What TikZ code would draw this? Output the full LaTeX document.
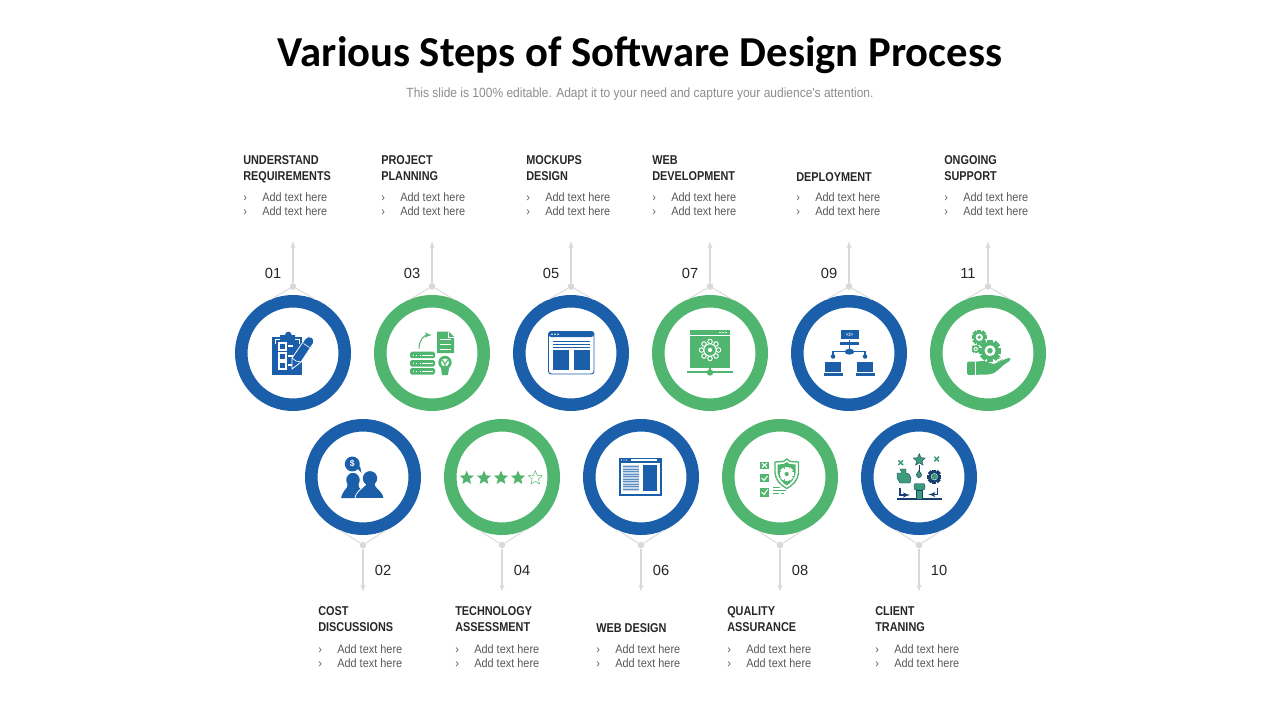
\documentclass[tikz,border=0pt]{standalone}
\usepackage{fontspec}
\setmainfont{Liberation Sans}
\newfontfamily\titlefont{Carlito}
\newfontfamily\headfont[FakeStretch=0.85]{Liberation Sans}
\newfontfamily\bodyfont[FakeStretch=0.9]{Liberation Sans}
\usetikzlibrary{arrows}
\usetikzlibrary{positioning}
\usetikzlibrary{shapes.geometric}
\definecolor{stepblue}{HTML}{1B5EA9}
\definecolor{stepgreen}{HTML}{50B56F}
\definecolor{stepteal}{HTML}{3C9C78}
\definecolor{stepgrey}{HTML}{D9D9D9}
\definecolor{stepnavy}{HTML}{17406E}
\definecolor{steppale}{HTML}{C6D7EC}
\definecolor{steptext}{HTML}{262626}
\tikzset{
  ringblue/.style={draw=stepblue,circle,fill=white,line width=9.4pt,minimum size=77.6pt,inner sep=0pt},
  ringgreen/.style={draw=stepgreen,circle,fill=white,line width=9.4pt,minimum size=77.6pt,inner sep=0pt},
  jdot/.style={fill=stepgrey,circle,minimum size=5pt,inner sep=0pt},
  stepnum/.style={font=\fontsize{11}{13}\selectfont,text=steptext,inner sep=0pt},
  stephead/.style={font=\headfont\bfseries\fontsize{9.6}{12}\selectfont,text=steptext,align=left,anchor=west,inner sep=0pt},
  stepitems/.style={font=\bodyfont\fontsize{9.1}{10.5}\selectfont,text=black!65,align=left,anchor=west,inner sep=0pt}
}
% one gear: centre, radius, colour
\newcommand{\gearicon}[4]{
  \foreach \a in {0,45,...,315}
    \fill[#4,rotate around={\a:(#1,#2)}] (#1-#3*0.28,#2-#3) rectangle (#1+#3*0.28,#2+#3);
  \fill[#4] (#1,#2) circle ({#3*0.78*0.75pt});
  \fill[white] (#1,#2) circle ({#3*0.5*0.75pt});
  \fill[#4] (#1,#2) circle ({#3*0.25*0.75pt});
}
\newcommand{\additems}{\makebox[14.25pt][l]{›}Add text here\\\makebox[14.25pt][l]{›}Add text here}

\begin{document}
\begin{tikzpicture}[x=0.75pt,y=-0.75pt]
  \tikzstyle{arrowline}=[draw=stepgrey, line width=0.85pt, -latex']
  \tikzstyle{wingline}=[draw=stepgrey, line width=0.7pt]
  \useasboundingbox (0,0) rectangle (1280,720);

  \node [font=\titlefont\bfseries\fontsize{32}{38}\selectfont] (title) at (640,55.5) {Various Steps of Software Design Process};
  \node [font=\bodyfont\fontsize{10}{12}\selectfont,text=black!45] (subtitle) at (640,94) {This slide is 100\% editable. Adapt it to your need and capture your audience's attention.};

  % upper row
  \node [ringblue] (ring01) at (293,353) {};
  \node [ringgreen] (ring03) at (432,353) {};
  \node [ringblue] (ring05) at (571,353) {};
  \node [ringgreen] (ring07) at (710,353) {};
  \node [ringblue] (ring09) at (849,353) {};
  \node [ringgreen] (ring11) at (988,353) {};
  % lower row
  \node [ringblue] (ring02) at (363,477) {};
  \node [ringgreen] (ring04) at (502,477) {};
  \node [ringblue] (ring06) at (641,477) {};
  \node [ringgreen] (ring08) at (780,477) {};
  \node [ringblue] (ring10) at (919,477) {};

  \foreach \n/\x in {01/293,03/432,05/571,07/710,09/849,11/988} {
    \node [jdot] (dot\n) at (\x,286.5) {};
    \coordinate (tip\n) at (\x,241);
    \path [arrowline] (dot\n) -- (tip\n);
    \path [wingline] (dot\n) -- (ring\n.113);
    \path [wingline] (dot\n) -- (ring\n.67);
  }
  \foreach \n/\x in {02/363,04/502,06/641,08/780,10/919} {
    \node [jdot] (dot\n) at (\x,545) {};
    \coordinate (tip\n) at (\x,592);
    \path [arrowline] (dot\n) -- (tip\n);
    \path [wingline] (dot\n) -- (ring\n.247);
    \path [wingline] (dot\n) -- (ring\n.293);
  }

  \node [stepnum] (num01) at (273,273) {01};
  \node [stepnum] (num03) at (412,273) {03};
  \node [stepnum] (num05) at (551,273) {05};
  \node [stepnum] (num07) at (690,273) {07};
  \node [stepnum] (num09) at (829,273) {09};
  \node [stepnum] (num11) at (968,273) {11};
  \node [stepnum] (num02) at (383,570) {02};
  \node [stepnum] (num04) at (522,570) {04};
  \node [stepnum] (num06) at (661,570) {06};
  \node [stepnum] (num08) at (800,570) {08};
  \node [stepnum] (num10) at (939,570) {10};

  \node [stephead] (head01) at (243,169) {UNDERSTAND\\REQUIREMENTS};
  \node [stephead] (head03) at (381,168) {PROJECT\\PLANNING};
  \node [stephead] (head05) at (526,168) {MOCKUPS\\DESIGN};
  \node [stephead] (head07) at (652,168) {WEB\\DEVELOPMENT};
  \node [stephead] (head09) at (796,177) {DEPLOYMENT};
  \node [stephead] (head11) at (944,168) {ONGOING\\SUPPORT};
  \node [stephead] (head02) at (318,619) {COST\\DISCUSSIONS};
  \node [stephead] (head04) at (455,619) {TECHNOLOGY\\ASSESSMENT};
  \node [stephead] (head06) at (596,628) {WEB DESIGN};
  \node [stephead] (head08) at (727,619) {QUALITY\\ASSURANCE};
  \node [stephead] (head10) at (875,619) {CLIENT\\TRANING};

  \node [stepitems] (items01) at (243,204) {\additems};
  \node [stepitems] (items03) at (381,204) {\additems};
  \node [stepitems] (items05) at (526,204) {\additems};
  \node [stepitems] (items07) at (652,204) {\additems};
  \node [stepitems] (items09) at (796,204) {\additems};
  \node [stepitems] (items11) at (944,204) {\additems};
  \node [stepitems] (items02) at (318,656) {\additems};
  \node [stepitems] (items04) at (455,656) {\additems};
  \node [stepitems] (items06) at (596,656) {\additems};
  \node [stepitems] (items08) at (727,656) {\additems};
  \node [stepitems] (items10) at (875,656) {\additems};

  % clipboard
  \begin{scope}[shift={(ring01.center)}]
    \fill [stepblue] (-21,-16) rectangle (9,22);
    \fill [stepblue] (-13,-16) -- (-13,-18) -- (-8,-18) arc (180:0:2.5pt) -- (2,-18) -- (2,-16) -- cycle;
    \draw [white, line width=0.4pt] (-18,-9) -- (-18,-13.5) -- (-13,-13.5) (2,-13.5) -- (6,-13.5) -- (6,-9);
    \foreach \y in {-10,0,9} {
      \draw [white, line width=0.8pt] (-14,\y) rectangle (-7,\y+7);
      \draw [white, line width=0.8pt] (-5,\y+3) -- (0,\y+3);
    }
    \draw [white, line width=0.6pt, fill=stepblue] (-1,16) -- (-1,5) -- (12,-14) .. controls (15,-19) and (23,-15) .. (20.5,-10) -- (8,9) -- cycle;
    \draw [white, line width=0.5pt] (10.5,-9.5) -- (16.5,-5.5);
    \draw [white, line width=0.5pt] (-1,5) -- (3,8) -- (8,9);
  \end{scope}

  % servers and document
  \begin{scope}[shift={(ring03.center)}]
    \foreach \y in {-1.3,7,15} {
      \fill [stepgreen, rounded corners=1.2pt] (-22,\y) rectangle (3,\y+6.5);
      \draw [white, line width=0.5pt, dotted] (-19,\y+3.2) -- (-11,\y+3.2);
      \draw [white, line width=0.5pt] (-10,\y+3.2) -- (1,\y+3.2);
    }
    \draw [stepgreen, line width=0.8pt, -latex'] (-13,-4.5) .. controls (-13,-13) and (-8,-18) .. (0,-18);
    \fill [stepgreen] (5,-21.5) -- (17,-21.5) -- (22,-16) -- (22,0) -- (5,0) -- cycle;
    \draw [white, line width=0.6pt] (16.5,-21) -- (16.5,-15.5) -- (22,-15.5);
    \foreach \y in {-14,-9,-4} \draw [white, line width=0.6pt] (8,\y) -- (19,\y);
    \fill [stepgreen] (13,9.5) circle (5pt);
    \fill [white] (13,9.5) circle (3pt);
    \draw [stepgreen, line width=0.8pt] (10,7) -- (13,11) -- (16,7) (13,11) -- (13,16);
    \fill [stepgreen] (9,15) -- (17,15) -- (16,22) -- (10,22) -- cycle;
  \end{scope}

  % browser window
  \begin{scope}[shift={(ring05.center)}]
    \draw [stepblue, line width=0.7pt, rounded corners=2pt] (-22.5,-21.5) rectangle (23,21);
    \fill [stepblue, rounded corners=2pt] (-22.5,-21.5) rectangle (23,-16);
    \foreach \x in {-19,-16,-13} \fill [white] (\x,-18.8) circle (0.7pt);
    \foreach \y in {-11.5,-9,-6} \draw [stepblue, line width=0.6pt] (-18,\y) -- (18.5,\y);
    \fill [stepblue] (-18,-3.5) rectangle (-2,16.5);
    \fill [stepblue] (2.5,-3.5) rectangle (19,16.5);
  \end{scope}

  % gear on a web page
  \begin{scope}[shift={(ring07.center)}]
    \fill [stepgreen] (-20,-23) rectangle (20,14.5);
    \draw [white, line width=0.5pt] (-20,-18) -- (20,-18);
    \foreach \x in {10,13,16} \fill [white] (\x,-20.5) circle (0.7pt);
    \foreach \a in {0,45,...,315} \draw [white, line width=0.7pt, fill=stepgreen] (0,-3) ++(\a:8.5) circle (1.7pt);
    \draw [white, line width=0.7pt, fill=stepgreen] (0,-3) circle (4.6pt);
    \fill [white] (0,-3) circle (1.6pt);
    \draw [stepgreen, line width=1.2pt] (0,14) -- (0,19);
    \draw [stepgreen, line width=0.9pt] (-23,19) -- (23,19);
    \fill [stepgreen] (0,19.5) circle (2.4pt);
  \end{scope}

  % network of laptops
  \begin{scope}[shift={(ring09.center)}]
    \fill [stepblue] (-8,-23) rectangle (9.5,-13.7);
    \fill [stepblue] (-9,-11.3) rectangle (10,-8);
    \node [text=white, inner sep=0pt, font=\bfseries\fontsize{3.6}{4}\selectfont] (codetag) at (0.7,-18.4) {</>};
    \draw [stepblue, line width=1.2pt] (0.5,-13) -- (0.5,-1.5);
    \draw [stepblue, line width=0.9pt] (-16,4) -- (-16,-1.3) -- (16,-1.3) -- (16,4);
    \fill [stepblue] (0.5,-1.3) ellipse (3.6pt and 2.2pt);
    \fill [stepblue] (-16,3.5) circle (1.7pt);
    \fill [stepblue] (16,3.5) circle (1.7pt);
    \foreach \x in {-16,16} {
      \fill [stepblue] (\x-8,8.7) rectangle (\x+8,18.5);
      \fill [stepblue] (\x-9.5,19.7) rectangle (\x+9.5,22.7);
    }
  \end{scope}

  % gears over a hand
  \begin{scope}[shift={(ring11.center)}]
    \gearicon{-8.7}{-15.7}{7.5}{stepgreen}
    \gearicon{-12.3}{-4}{4.2}{stepgreen}
    \gearicon{2}{-2.3}{11}{stepgreen}
    \fill [stepgreen, rounded corners=1pt] (-21,8.5) -- (-9,8.5) .. controls (-3,7) and (1,10) .. (6,11) -- (20,5) .. controls (23,5) and (23,7) .. (20,9) .. controls (12,14) and (8,21) .. (0,21.5) -- (-21,22) -- cycle;
    \draw [white, line width=0.4pt] (-13,9) -- (-13,22);
    \draw [stepgreen, line width=0.4pt] (7,7) -- (13,4.5) (9,9) -- (15,6.5);
  \end{scope}

  % two people and a dollar
  \begin{scope}[shift={(ring02.center)}]
    \fill [stepblue] (-22,21) .. controls (-20,14) and (-17,12) .. (-15,9) -- (-5,9) .. controls (-3,12) and (1,15) .. (3,21) -- cycle;
    \fill [stepblue] (7,1.3) circle (5.4pt);
    \draw [white, line width=0.6pt, fill=stepblue] (-8,21.5) .. controls (-7,14) and (-2,13) .. (2,8) -- (12,8) .. controls (15,13) and (20,14) .. (21,21.5) -- cycle;
    \fill [stepblue] (2.5,4) rectangle (11.5,10);
    \draw [white, line width=0.6pt, fill=stepblue] (-10,3) ellipse (5.4pt and 5.8pt);
    \fill [stepblue] (-16,11) .. controls (-15,8) and (-16,5) .. (-15,3) -- (-5,3) .. controls (-4,5) and (-5,8) .. (-4,11) -- cycle;
    \fill [stepblue] (-10.7,-13) circle (5.6pt);
    \fill [stepblue] (-6,-9) -- (-1.5,-4) -- (-3,-11) -- cycle;
    \node [text=white, inner sep=0pt, font=\bfseries\fontsize{6.5}{8}\selectfont] (dollar) at (-10.7,-13) {\$};
  \end{scope}

  % four of five stars
  \foreach \n/\x in {a/466.7,b/484,c/501,d/518}
    \node [star, star points=5, star point ratio=2.2, fill=stepgreen, minimum size=11pt, inner sep=0pt] (star\n) at (\x,478) {};
  \node [star, star points=5, star point ratio=2.2, draw=stepgreen, line width=0.35pt, minimum size=11pt, inner sep=0pt] (stare) at (535.3,478) {};

  % page with a text column
  \begin{scope}[shift={(ring06.center)}]
    \fill [stepblue] (-22,-18.7) rectangle (20.7,18.7);
    \fill [white] (-20,-14.5) rectangle (18.7,16.7);
    \fill [white] (-10,-17.7) rectangle (15.7,-16.3);
    \foreach \x in {-19.5,-17,-14.5} \fill [white] (\x,-17) circle (0.4pt);
    \fill [steppale] (-18,-12) rectangle (-2.5,14);
    \foreach \y in {-10.5,-8,...,13} \draw [stepblue!70, line width=0.3pt] (-18,\y) -- (-2.5,\y);
    \fill [stepblue] (1.7,-12) rectangle (16.3,14);
  \end{scope}

  % checklist and shield
  \begin{scope}[shift={(ring08.center)}]
    \foreach \y/\h in {-15.3/7.3,-2.7/8,10.7/9} \fill [stepgreen] (-20,\y) rectangle (-10.7,\y+\h);
    \draw [white, line width=0.8pt] (-18,-14) -- (-13,-9.5) (-18,-9.5) -- (-13,-14);
    \draw [white, line width=0.8pt] (-18.3,1) -- (-16,3.3) -- (-12.5,-1);
    \draw [white, line width=0.8pt] (-18.3,15) -- (-16,17.5) -- (-12.5,12.5);
    \draw [stepgreen, line width=1pt, fill=white] (6.7,-18) -- (10,-15.5) -- (18.5,-15) -- (18.5,-4) .. controls (18,3) and (13,8) .. (6.7,11.5) .. controls (0.5,8) and (-4.5,3) .. (-5,-4) -- (-5,-15) -- (3.5,-15.5) -- cycle;
    \fill [stepgreen] (6.7,-15) -- (9.5,-13) -- (15.7,-12.5) -- (15.7,-4) .. controls (15,1) and (11,6) .. (6.7,8.5) .. controls (2.5,6) and (-1.5,1) .. (-2.3,-4) -- (-2.3,-12.5) -- (3.8,-13) -- cycle;
    \gearicon{6.7}{-3}{7}{white}
    \fill [stepgreen] (6.7,-3) circle (1.6pt);
    \draw [stepgreen, line width=0.5pt] (-7,10.5) -- (0,10.5) (-7,13.5) -- (6,13.5) (-7,16) -- (-1,16) (1,16) -- (4,16);
  \end{scope}

  % puzzle, star, gear, plunger
  \begin{scope}[shift={(ring10.center)}]
    \draw [stepnavy, line width=1pt] (-22,22) -- (23,22);
    \node [star, star points=5, star point ratio=2.2, fill=stepteal, draw=stepnavy, line width=0.3pt, minimum size=9.5pt, inner sep=0pt] (star10) at (0.3,-17) {};
    \foreach \x/\y in {-18.3/-14.3,17.7/-18} {
      \draw [stepteal, line width=1.1pt] (\x-2.3,\y-2.3) -- (\x+2.3,\y+2.3);
      \draw [stepteal, line width=1.1pt] (\x-2.3,\y+2.3) -- (\x+2.3,\y-2.3);
    }
    \draw [stepnavy, line width=0.3pt, fill=stepteal] (-22,-4) -- (-17,-4) -- (-19,-8) -- (-13,-8) -- (-13,-4) -- (-10,-3) -- (-8,1) -- (-9,6) -- (-19,6) -- (-22,1) -- cycle;
    \draw [stepnavy, line width=0.5pt] (0,-12) -- (0,-6);
    \draw [stepnavy, line width=0.4pt, fill=stepteal] (0,-6.5) -- (2.5,-2.5) arc (0:-180:1.9pt and 2.4pt) -- cycle;
    \gearicon{15.3}{-0.3}{7}{stepnavy}
    \fill [stepteal] (15.3,-0.3) circle (2.3pt);
    \draw [stepnavy, line width=0.3pt, fill=stepteal, rounded corners=1.5pt] (-5,6.5) rectangle (6,13);
    \draw [stepnavy, line width=0.3pt, fill=stepteal] (-2.7,13) rectangle (3,22);
    \draw [stepnavy, line width=0.8pt, -latex'] (-19,10.7) -- (-19,18) -- (-9,18);
    \draw [stepnavy, line width=0.8pt, -latex'] (18.3,10.7) -- (18.3,17.5) -- (9.3,17.5);
  \end{scope}
\end{tikzpicture}
\end{document}
